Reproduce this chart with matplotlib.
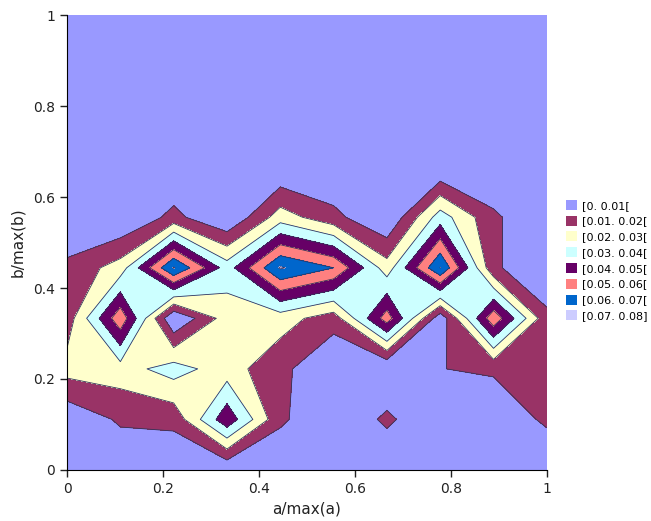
import numpy as np
import matplotlib
matplotlib.use("Agg")
import matplotlib.pyplot as plt
from matplotlib.patches import Patch

# grid: a/max(a) and b/max(b), 10 x 10 nodes
a = np.arange(10) / 9
b = np.arange(10) / 9

# values per row of b (in units of 0.01)
row0 = [0.0, 0.15, 0.0, 0.1, 0.0, 0.0, 0.0, 0.0, 0.0, 0.0]
row1 = [0.2, 1.15, 1.3, 4.7, 1.2, 0.0, 1.22, 0.0, 0.2, 1.2]
row2 = [2.4, 2.55, 3.45, 2.45, 1.3, 0.0, 0.0, 0.98, 1.15, 1.5]
row3 = [1.43, 5.7, 0.0, 2.5, 2.45, 1.45, 5.5, 0.33, 5.7, 1.28]
row4 = [1.25, 2.45, 7.08, 3.5, 7.1, 6.0, 2.45, 7.02, 1.2, 0.0]
row5 = [0.0, 0.0, 1.3, 0.0, 2.5, 1.3, 0.0, 3.5, 1.2, 0.0]
row6 = [0.0] * 10
row7 = [0.0] * 10
row8 = [0.0] * 10
row9 = [0.0] * 10

levels = [0.0, 0.01, 0.02, 0.03, 0.04, 0.05, 0.06, 0.07, 0.08]
colors = ["#9999FF", "#993366", "#FFFFCC", "#CCFFFF",
          "#660066", "#FF8080", "#0066CC", "#CCCCFF"]
labels = ["[0. 0.01[", "[0.01. 0.02[", "[0.02. 0.03[", "[0.03. 0.04[",
          "[0.04. 0.05[", "[0.05. 0.06[", "[0.06. 0.07[", "[0.07. 0.08]"]

z = np.array([row0, row1, row2, row3, row4, row5, row6, row7, row8, row9]) / 100

fig = plt.figure(figsize=(6.51, 5.21), dpi=100)
ax = fig.add_axes([0.103, 0.098, 0.737, 0.873])

ax.contourf(a, b, z, levels=levels, colors=colors)
ax.contour(a, b, z, levels=levels[1:-1], colors="#33335a", linewidths=0.6)

ax.set_xlim(0, 1)
ax.set_ylim(0, 1)
ticks = [0, 0.2, 0.4, 0.6, 0.8, 1]
ticklabels = ["0", "0.2", "0.4", "0.6", "0.8", "1"]
ax.set_xticks(ticks)
ax.set_xticklabels(ticklabels)
ax.set_yticks(ticks)
ax.set_yticklabels(ticklabels)
ax.tick_params(direction="out", length=5, width=1, labelsize=10, colors="#222222")
for s in ["top", "right"]:
    ax.spines[s].set_visible(False)
ax.set_xlabel("a/max(a)", fontsize=11, color="#222222", labelpad=4)
ax.set_ylabel("b/max(b)", fontsize=11, color="#222222", labelpad=6)

handles = [Patch(facecolor=c, edgecolor="none") for c in colors]
fig.legend(handles, labels, loc="center left", bbox_to_anchor=(0.862, 0.5),
           frameon=False, fontsize=8, handlelength=1.0, handleheight=1.0,
           handletextpad=0.5, labelspacing=0.45, borderaxespad=0)

fig.savefig("out.png", dpi=100)
